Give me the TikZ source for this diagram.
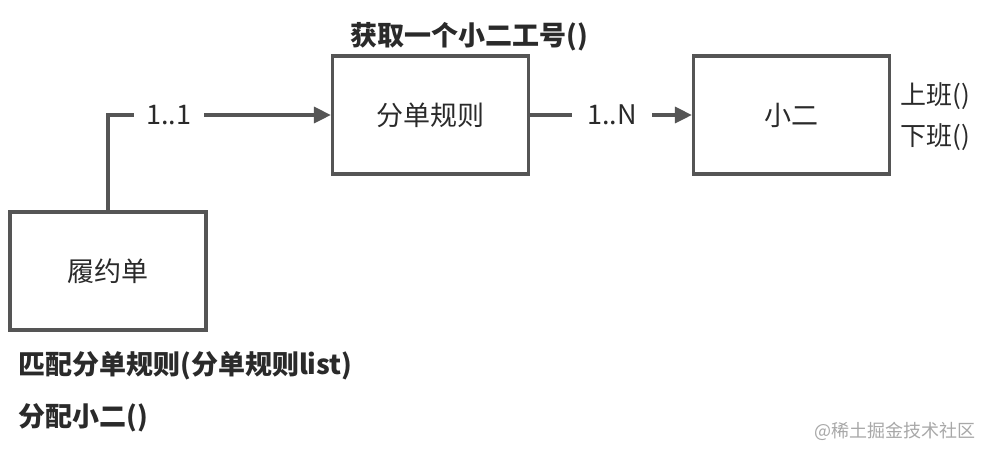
\documentclass[tikz,border=0pt]{standalone}
\usepackage{fontspec}
\setmainfont{Noto Sans CJK SC}
\usetikzlibrary{arrows.meta}
\definecolor{linec}{HTML}{555555}
\definecolor{textc}{HTML}{2A2A2A}
\definecolor{markc}{HTML}{A8A8A8}
\tikzset{
  box/.style={draw=linec, line width=3.2pt, minimum width=196pt, minimum height=118pt, inner sep=0pt, text=textc, font=\fontsize{27}{30}\selectfont},
  conn/.style={draw=linec, line width=3.2pt, -{Triangle[length=17pt,width=16pt]}},
  mult/.style={fill=white, text=textc, inner sep=0pt, font=\fontsize{27}{30}\selectfont},
  lbl/.style={anchor=west, inner sep=0pt, text=textc, font=\fontsize{27}{30}\selectfont\bfseries},
  lblr/.style={anchor=west, inner sep=0pt, text=textc, font=\fontsize{26}{30}\selectfont},
}
\begin{document}
\begin{tikzpicture}[x=1pt,y=-1pt]
\useasboundingbox[fill=white] (0,0) rectangle (990,456);
\node[box] (a) at (108,271) {履约单};
\node[box] (b) at (430.5,115) {分单规则};
\node[box] (c) at (791.5,115) {小二};
\draw[conn] (a.north) |- (b.west) node[mult, pos=0.636, minimum width=70pt, minimum height=30pt] (m1) {1..1};
\draw[conn] (b.east) -- (c.west) node[mult, pos=0.506, minimum width=80pt, minimum height=30pt] (m2) {1..N};
\node[lbl] (t1) at (350,37) {获取一个小二工号()};
\node[lblr] (t2) at (900,96) {上班()};
\node[lblr] (t3) at (900,137) {下班()};
\node[lbl] (t4) at (18,366) {匹配分单规则(分单规则list)};
\node[lbl] (t5) at (18,418) {分配小二()};
\node[anchor=west, inner sep=0pt, text=markc, font=\fontsize{18}{22}\selectfont] (wm) at (814,431) {@稀土掘金技术社区};
\end{tikzpicture}
\end{document}
